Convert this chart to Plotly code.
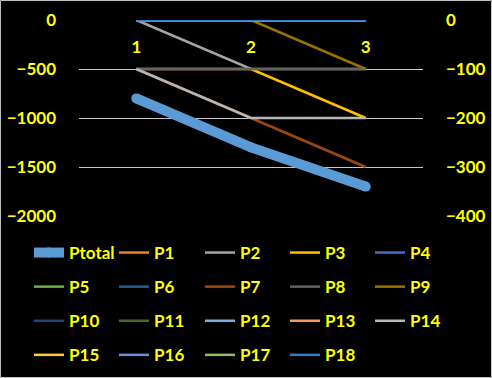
import plotly.graph_objects as go

categories = ["1", "2", "3"]
ptotal = [-800, -1300, -1700]
p1 = [0, 0, 0]
p2 = [0, -100, -100]
p3 = [-100, -100, -200]
p4 = [0, 0, 0]
p5 = [0, 0, 0]
p6 = [0, 0, 0]
p7 = [-100, -200, -300]
p8 = [-100, -100, -100]
p9 = [0, 0, -100]
p10 = [0, 0, 0]
p11 = [0, 0, 0]
p12 = [0, 0, 0]
p13 = [0, 0, 0]
p14 = [-100, -200, -200]
p15 = [0, 0, 0]
p16 = [0, 0, 0]
p17 = [0, 0, 0]
p18 = [0, 0, 0]
left_ticks = [0, -500, -1000, -1500, -2000]
right_ticks = [0, -100, -200, -300, -400]

series = [p1, p2, p3, p4, p5, p6, p7, p8, p9, p10, p11, p12, p13, p14, p15, p16, p17, p18]
colors = ["#ED7D31", "#A5A5A5", "#FFC000", "#4472C4", "#70AD47", "#255E91",
          "#9E480E", "#636363", "#997300", "#264478", "#43682B", "#7CAFDD",
          "#F1975A", "#B7B7B7", "#FFCD33", "#698ED0", "#8CC168", "#327DC2"]

FONT = "Lato"
YEL = "#FFFF00"

W, H = 492, 378
ml, mr, mt, mb = 79, 69, 20, 162
pw = W - ml - mr
ph = H - mt - mb

# legend columns: entry k (0 = Ptotal) goes to column k % 5
leg_names = ["legend", "legend2", "legend3", "legend4", "legend5"]

fig = go.Figure()
fig.add_trace(go.Scatter(x=categories, y=ptotal, name="Ptotal", mode="lines+markers",
                         line=dict(color="#5B9BD5", width=10),
                         marker=dict(color="#5B9BD5", size=10), yaxis="y",
                         legend=leg_names[0], legendgroup="g0"))
for i, (vals, c) in enumerate(zip(series, colors)):
    fig.add_trace(go.Scatter(x=categories, y=vals, name=f"P{i+1}", mode="lines",
                             line=dict(color=c, width=2.5), yaxis="y2",
                             legend=leg_names[(i + 1) % 5], legendgroup=f"g{i+1}"))

tf = dict(family=FONT, size=17, color=YEL, weight="bold")


def leg(left_px, top_px=235):
    return dict(orientation="v", x=(left_px - ml) / pw, xanchor="left",
                y=(mt + ph - top_px) / ph, yanchor="top",
                tracegroupgap=9, bgcolor="rgba(0,0,0,0)",
                font=tf, itemclick=False, borderwidth=0)


col_left = [29, 114, 200, 285, 370]

fig.update_layout(
    width=W, height=H,
    margin=dict(l=ml, r=mr, t=mt, b=mb, pad=0, autoexpand=False),
    paper_bgcolor="black", plot_bgcolor="black",
    font=dict(family=FONT, size=17, color=YEL),
    xaxis=dict(type="category", range=[-0.5, 2.5], showgrid=False,
               zeroline=False, showline=False, ticks="",
               anchor="free", position=(mt + ph - 35) / ph, ticklabelstandoff=0,
               tickfont=tf),
    yaxis=dict(range=[-2000, 0], tickvals=left_ticks, showgrid=True,
               gridcolor="#C8C8C8", gridwidth=1, zeroline=False, showline=False,
               ticks="", ticklabelstandoff=22, tickfont=tf),
    yaxis2=dict(range=[-400, 0], tickvals=right_ticks, overlaying="y", side="right",
                showgrid=False, zeroline=False, showline=False, ticks="",
                ticklabelstandoff=22, tickfont=tf),
    showlegend=True,
    legend=leg(col_left[0]), legend2=leg(col_left[1]), legend3=leg(col_left[2]),
    legend4=leg(col_left[3]), legend5=leg(col_left[4]),
    shapes=[dict(type="rect", xref="paper", yref="paper",
                 x0=-(ml - 0.5) / pw, x1=1 + (mr - 0.5) / pw,
                 y0=-(mb - 0.5) / ph, y1=1 + (mt - 0.5) / ph,
                 line=dict(color="#BFBFBF", width=1), layer="below")],
)

fig.write_html("out.html", config={"displayModeBar": False},
               post_script="document.body.style.margin='0';document.body.style.overflow='hidden';")
